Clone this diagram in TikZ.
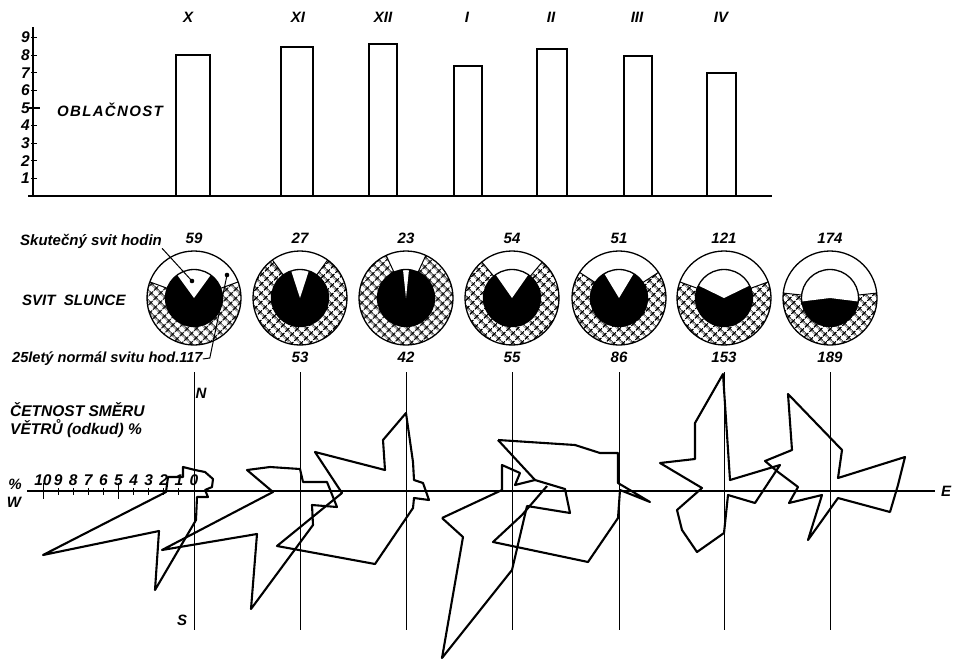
\documentclass[tikz,border=0pt]{standalone}
\usepackage{fontspec}
\setmainfont{Liberation Sans}
\usetikzlibrary{patterns.meta}

\begin{document}
\begin{tikzpicture}[x=1pt, y=-1pt,
    lbl/.style={font=\bfseries\itshape\fontsize{15}{18}\selectfont, inner sep=0pt},
    num/.style={font=\bfseries\itshape\fontsize{15.5}{15.5}\selectfont, inner sep=0pt},
    bar/.style={line width=1.9pt},
    axis/.style={line width=1.3pt},
    grid/.style={line width=0.9pt},
    rose/.style={line width=2.1pt, line join=round},
    hatch/.style={pattern={Hatch[angle=45, distance=6.5pt, line width=1.5pt]}}]
    \useasboundingbox (0,0) rectangle (955,661);

    \draw[axis] (28,196) -- (772,196);
    \draw[axis] (33,196) -- (33,27);
    \foreach \k in {1,...,9} {
        \draw[line width=1.2pt] (31,196-17.6*\k) -- (37,196-17.6*\k);
        \node[num, anchor=east] (t\k) at (30,196-17.6*\k) {\k};
    }
    \draw[line width=1.2pt] (29,108) -- (40,108);
    \node[num, font=\bfseries\itshape\fontsize{15}{15}\selectfont\addfontfeatures{LetterSpace=9}] (obl) at (110,110) {OBLAČNOST};

    \foreach \m/\xl/\xr/\v/\xm in {X/176/210/8.0/188, XI/281/313/8.47/298, XII/369/397/8.64/383, I/454/482/7.4/467, II/537/567/8.35/551, III/624/652/7.95/637, IV/707/736/7.0/721} {
        \draw[bar] (\xl,196) rectangle (\xr,196-17.6*\v);
        \node[lbl] (m\m) at (\xm,17) {\m};
    }

    \foreach \cx/\act/\ih/\rh [count=\i] in {194/59/36/70, 300/27/18/36, 406/23/6/25, 512/54/35/40, 619/51/31/57, 724/121/64/70, 830/174/97/84} {
        \pgfmathsetmacro\ra{270-\rh}
        \pgfmathsetmacro\rb{270+\rh}
        \pgfmathsetmacro\ia{270-\ih}
        \pgfmathsetmacro\ib{270+\ih}
        \coordinate (c\i) at (\cx,298);
        \fill[hatch] (c\i) circle (47);
        \fill[white] (c\i) -- +(\ra:47) arc[start angle=\ra, end angle=\rb, radius=47] -- cycle;
        \draw[line width=1pt] (c\i) +(\ra:28.5) -- +(\ra:47) (c\i) +(\rb:28.5) -- +(\rb:47);
        \fill (c\i) circle (28.5);
        \fill[white] (c\i) -- +(\ia:28.5) arc[start angle=\ia, end angle=\ib, radius=28.5] -- cycle;
        \draw[line width=1.3pt] (c\i) circle (47) (c\i) circle (28.5);
        \node[lbl] (act\i) at (\cx,238) {\act};
    }
    \foreach \cx/\nrm [count=\i from 2] in {300/53, 406/42, 512/55, 619/86, 724/153, 830/189}
        \node[lbl] (nrm\i) at (\cx,357) {\nrm};

    \node[lbl, anchor=west] (skut) at (20,241) {Skutečný svit hodin};
    \node[lbl, anchor=west] (svit) at (22,300) {SVIT\ \ SLUNCE};
    \node[lbl, anchor=west, font=\bfseries\itshape\fontsize{14.6}{18}\selectfont] (norm) at (12,359) {25letý normál svitu hod.117};
    \coordinate (d1) at (192,281);
    \coordinate (d2) at (227,275);
    \draw[line width=1pt] (skut.south east) -- (d1);
    \draw[line width=1pt] (norm.east) -- ++(7,-1) -- (d2);
    \fill (d1) circle (2.3);
    \fill (d2) circle (2.3);

    \draw[axis] (27,491) -- (935,491);
    \foreach \x in {194,300,406,512,619,724,830}
        \draw[grid] (\x,372) -- (\x,630);
    \node[lbl] (N) at (201,393) {N};
    \node[lbl] (S) at (182,620) {S};
    \node[lbl] (E) at (946,491) {E};
    \node[lbl] (pct) at (15,484) {\%};
    \node[lbl] (W) at (14,502) {W};
    \node[lbl, anchor=west, align=left, font=\bfseries\itshape\fontsize{15.5}{18}\selectfont] (cet) at (10,420) {ČETNOST SMĚRU\\VĚTRŮ (odkud) \%};
    \foreach \k in {1,...,10}
        \draw[line width=1pt] (194-15.1*\k,488) -- (194-15.1*\k,495);
    \foreach \k in {5,10}
        \draw[line width=1pt] (194-15.1*\k,483) -- (194-15.1*\k,499);
    \foreach \k in {0,...,10}
        \node[num] (w\k) at (194-15.1*\k,480) {\k};

    \draw[rose] (43,555) -- (166,492) -- (168,477) -- (183,477) -- (183,467) -- (195,470) -- (205,472) -- (213,479) -- (212,487) -- (205,490) -- (208,497) -- (197,497) -- (196,520) -- (155,590) -- (159,531) -- cycle;
    \draw[rose] (273,492) -- (162,550) -- (257,534) -- (251,609) -- (313,525) -- (312,505) -- (337,507) -- (327,482) -- (303,482) -- (300,469) -- (270,467) -- (247,470) -- cycle;
    \draw[rose] (406,413) -- (413,462) -- (414,480) -- (423,483) -- (429,500) -- (414,498) -- (413,508) -- (375,564) -- (277,546) -- (342,493) -- (315,452) -- (385,470) -- (383,440) -- cycle;
    \draw[rose] (442,518) -- (502,490) -- (502,465) -- (520,473) -- (515,485) -- (535,480);
    \draw[rose] (498,440) -- (535,480) -- (565,489) -- (570,513) -- (527,506) -- (512,570) -- (442,658) -- (463,537) -- (442,518);
    \draw[rose] (498,440) -- (575,445) -- (600,453) -- (618,453) -- (618,483) -- (650,502) -- (620,490) -- (618,518) -- (588,562) -- (493,542) -- (522,515) -- (547,486);
    \draw[rose] (723,374) -- (730,480) -- (780,465) -- (755,503) -- (728,495) -- (724,533) -- (697,552) -- (682,530) -- (677,510) -- (702,488) -- (660,463) -- (695,459) -- (695,423) -- cycle;
    \draw[rose] (788,394) -- (842,450) -- (838,478) -- (905,457) -- (898,485) -- (890,512) -- (838,498) -- (808,540) -- (822,495) -- (789,503) -- (798,487) -- (778,472) -- (765,461) -- (792,450) -- cycle;
\end{tikzpicture}
\end{document}
